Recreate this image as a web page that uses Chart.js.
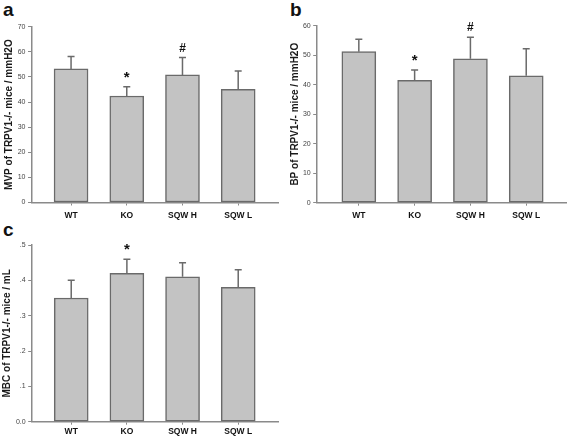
<!DOCTYPE html>
<html>
<head>
<meta charset="utf-8">
<script src="https://cdn.jsdelivr.net/npm/chart.js@4/dist/chart.umd.min.js"></script>
<style>
  html, body { margin: 0; padding: 0; background: #fff; }
  body { position: relative; width: 567px; height: 439px; overflow: hidden; font-family: "Liberation Sans", Arial, sans-serif; }
  .panel { position: absolute; }
  .tag { position: absolute; font-weight: bold; font-size: 19px; line-height: 19px; color: #111; }
</style>
</head>
<body>
<div class="tag" style="left:3px;top:0">a</div>
<div class="tag" style="left:290px;top:0">b</div>
<div class="tag" style="left:3px;top:220px">c</div>
<div class="panel" style="left:0;top:0"><canvas id="chart-mvp" width="283" height="225"></canvas></div>
<div class="panel" style="left:285px;top:0"><canvas id="chart-bp" width="282" height="225"></canvas></div>
<div class="panel" style="left:0;top:220px"><canvas id="chart-mbc" width="283" height="219"></canvas></div>
<script>
'use strict';

const categories = ['WT', 'KO', 'SQW H', 'SQW L'];

const mvpMeans  = [53.2, 42.4, 50.8, 45.1];
const mvpErrors = [4.9, 3.7, 6.9, 7.3];
const mvpMarks  = ['', '*', '#', ''];

const bpMeans  = [51.2, 41.5, 48.8, 43.0];
const bpErrors = [4.2, 3.5, 7.3, 9.2];
const bpMarks  = ['', '*', '#', ''];

const mbcMeans  = [0.35, 0.42, 0.41, 0.38];
const mbcErrors = [0.05, 0.04, 0.04, 0.05];
const mbcMarks  = ['', '*', '', ''];

const AXIS = '#8a8a8a';
const BAR_FILL = '#c3c3c3';
const BAR_EDGE = '#6a6a6a';

Chart.defaults.font.family = "'Liberation Sans', Arial, sans-serif";

// upper error bars + significance marks
const errorBars = {
  id: 'errorBars',
  afterDatasetsDraw(chart, args, opts) {
    const { ctx } = chart;
    const yScale = chart.scales.y;
    const meta = chart.getDatasetMeta(0);
    ctx.save();
    ctx.strokeStyle = BAR_EDGE;
    ctx.lineWidth = 1.5;
    meta.data.forEach((bar, i) => {
      const top = yScale.getPixelForValue(opts.means[i] + opts.errors[i]);
      ctx.beginPath();
      ctx.moveTo(bar.x, bar.y);
      ctx.lineTo(bar.x, top);
      ctx.moveTo(bar.x - 3.5, top);
      ctx.lineTo(bar.x + 3.5, top);
      ctx.stroke();
      const m = opts.marks[i];
      if (m) {
        ctx.fillStyle = '#111';
        ctx.textAlign = 'center';
        ctx.textBaseline = 'alphabetic';
        ctx.font = m === '*' ? "bold 15px 'Liberation Sans', Arial" : "bold 12px 'Liberation Sans', Arial";
        ctx.fillText(m, bar.x, top - (m === '*' ? 5 : 6));
      }
    });
    ctx.restore();
  }
};

function makeChart(id, cfg) {
  const ctx = document.getElementById(id)?.getContext('2d');
  if (!ctx) return null;
  return new Chart(ctx, {
    type: 'bar',
    data: {
      datasets: [{
        data: cfg.means.map((v, i) => ({ x: i, y: v })),
        backgroundColor: BAR_FILL,
        borderColor: BAR_EDGE,
        borderWidth: 1.5,
        borderSkipped: false,
        barThickness: 34
      }]
    },
    options: {
      responsive: false,
      animation: false,
      devicePixelRatio: 1,
      layout: { padding: { top: cfg.top, right: cfg.right, left: 0, bottom: 0 } },
      plugins: {
        legend: { display: false },
        tooltip: { enabled: false },
        errorBars: { means: cfg.means, errors: cfg.errors, marks: cfg.marks }
      },
      scales: {
        x: {
          type: 'linear',
          offset: false,
          min: cfg.xMin,
          max: cfg.xMax,
          afterBuildTicks: s => { s.ticks = categories.map((_, i) => ({ value: i })); },
          afterFit: s => { s.height = cfg.xHeight; },
          grid: { offset: false, drawOnChartArea: false, drawTicks: true, tickLength: 3, tickColor: AXIS, tickWidth: 1 },
          border: { display: true, color: AXIS, width: 1.5 },
          ticks: {
            autoSkip: false,
            maxRotation: 0,
            padding: cfg.xPad,
            color: '#111',
            font: { size: 8.5, weight: 'bold' },
            callback: v => categories[v] ?? ''
          }
        },
        y: {
          min: 0,
          max: cfg.yMax,
          afterFit: s => { s.width = cfg.left; },
          grid: { drawOnChartArea: false, drawTicks: true, tickLength: 3.5, tickColor: AXIS, tickWidth: 1 },
          border: { display: true, color: AXIS, width: 1.5 },
          ticks: {
            stepSize: cfg.yStep,
            padding: 2.5,
            color: '#444',
            font: { size: 7 },
            callback: cfg.yFormat || (v => v)
          },
          title: {
            display: true,
            text: cfg.title,
            color: '#1a1a1a',
            font: { size: 10, weight: 'bold' },
            padding: { top: cfg.titlePad, bottom: 0 }
          }
        }
      }
    },
    plugins: [errorBars]
  });
}

makeChart('chart-mvp', {
  means: mvpMeans, errors: mvpErrors, marks: mvpMarks,
  title: 'MVP of TRPV1-/- mice / mmH2O',
  yMax: 70, yStep: 10,
  top: 26.7, right: 4.7, left: 31.5, xHeight: 22.5, xPad: 5,
  xMin: -0.71, xMax: 3.72, titlePad: 3
});

makeChart('chart-bp', {
  means: bpMeans, errors: bpErrors, marks: bpMarks,
  title: 'BP of TRPV1-/- mice / mmH2O',
  yMax: 60, yStep: 10,
  top: 25.7, right: 1, left: 31.7, xHeight: 22.3, xPad: 5,
  xMin: -0.755, xMax: 3.713, titlePad: 4
});

makeChart('chart-mbc', {
  means: mbcMeans, errors: mbcErrors, marks: mbcMarks,
  title: 'MBC of TRPV1-/- mice / mL',
  yMax: 0.5, yStep: 0.1,
  yFormat: v => v === 0 ? '0.0' : v.toFixed(1).replace(/^0/, ''),
  top: 25, right: 4.7, left: 31.7, xHeight: 17.3, xPad: 2,
  xMin: -0.71, xMax: 3.72, titlePad: 1.5
});
</script>
</body>
</html>
